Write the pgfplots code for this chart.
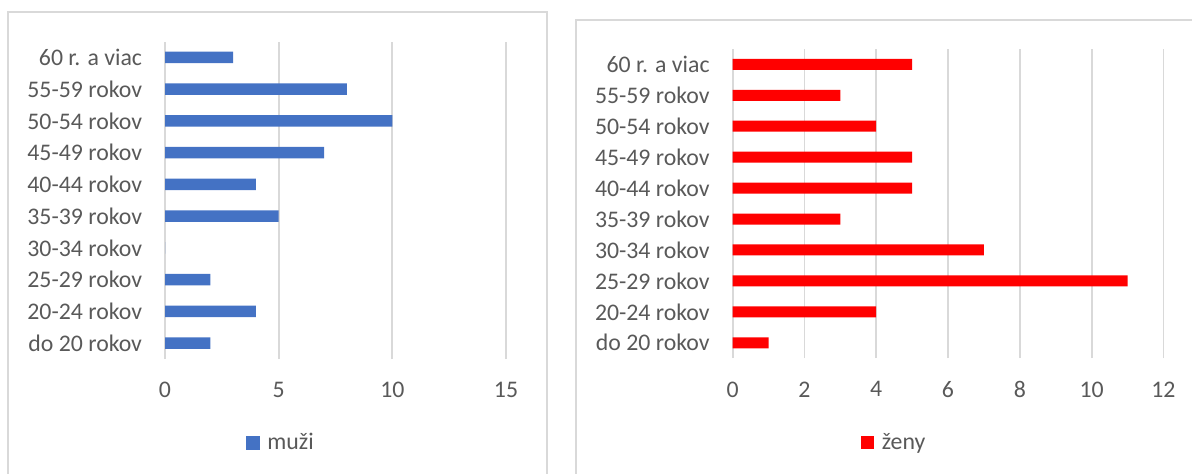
\documentclass[border=0pt]{standalone}
\usepackage{pgfplots}
\pgfplotsset{compat=1.18}
\usepackage{fontspec}
\setmainfont{Carlito}

\definecolor{muzblue}{HTML}{4472C4}
\definecolor{zenred}{HTML}{FF0000}
\definecolor{gridgray}{HTML}{D9D9D9}
\definecolor{labelgray}{HTML}{595959}

\pgfplotsset{
  agebars/.style={
    xbar, scale only axis,
    anchor=south west,
    ymin=-0.5, ymax=9.5,
    ytick={0,...,9},
    yticklabels={do 20 rokov,20-24 rokov,25-29 rokov,30-34 rokov,35-39 rokov,
                 40-44 rokov,45-49 rokov,50-54 rokov,55-59 rokov,60 r. a viac},
    axis line style={draw=none},
    tick style={draw=none},
    major tick length=0pt,
    xmajorgrids,
    major grid style={color=gridgray, line width=0.9pt},
    ticklabel style={font=\fontsize{11.9}{14}\selectfont, text=labelgray, inner sep=0pt},
    /pgf/number format/assume math mode=true,
    yticklabel shift=11.3pt,
    xticklabel shift=11.5pt,
    legend style={draw=none, fill=none, inner sep=0pt,
      font=\fontsize{11.9}{14}\selectfont, text=labelgray,
      /tikz/every odd column/.append style={column sep=1.8pt}},
    legend cell align=left,
  }
}

\begin{document}
\begin{tikzpicture}
\clip (0,0) rectangle (596pt,-236.5pt);
\useasboundingbox (0,0) rectangle (596pt,-236.5pt);

% chart frames
\draw[gridgray, line width=0.75pt] (4pt,-6pt) rectangle (273.5pt,-260pt);
\draw[gridgray, line width=0.75pt] (288pt,-10pt) rectangle (620pt,-260pt);

% muzi
\begin{axis}[agebars,
  at={(82.5pt,-179.5pt)},
  width=170.5pt, height=158.75pt,
  xmin=0, xmax=15, xtick={0,5,10,15},
  bar width=5.75pt,
  legend image code/.code={\fill[muzblue] (0pt,-3.4pt) rectangle (6.8pt,3.4pt);},
  legend style={at={(0.343,-0.264)}, anchor=center},
]
\addplot[fill=muzblue, draw=none] coordinates {
  (2,0) (4,1) (2,2) (0,3) (5,4) (4,5) (7,6) (10,7) (8,8) (3,9)
};
\addlegendentry{muži}
\end{axis}

% zeny
\begin{axis}[agebars,
  at={(366.3pt,-179.1pt)},
  width=215.4pt, height=154.65pt,
  xmin=0, xmax=12, xtick={0,2,...,12},
  bar width=5.5pt,
  legend image code/.code={\fill[zenred] (0pt,-3.4pt) rectangle (6.8pt,3.4pt);},
  legend style={at={(0.377,-0.273)}, anchor=center},
]
\addplot[fill=zenred, draw=none] coordinates {
  (1,0) (4,1) (11,2) (7,3) (3,4) (5,5) (5,6) (4,7) (3,8) (5,9)
};
\addlegendentry{ženy}
\end{axis}
\end{tikzpicture}
\end{document}
